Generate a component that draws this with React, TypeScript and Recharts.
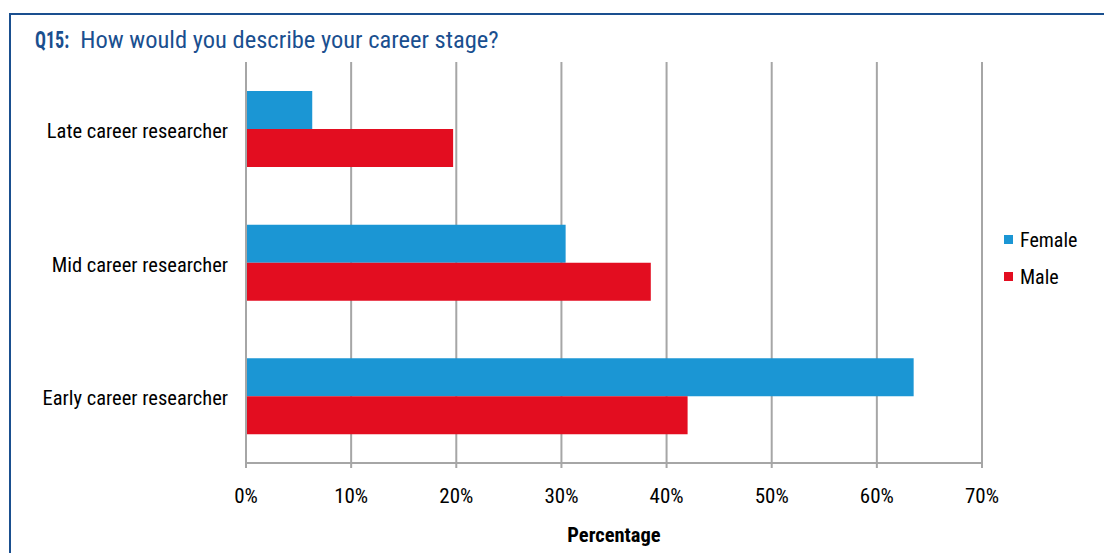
import React from "react";
import { BarChart, Bar, XAxis, YAxis, CartesianGrid } from "recharts";

const categories = ["Late career researcher", "Mid career researcher", "Early career researcher"];
const femaleValues = [6.3, 30.4, 63.5];
const maleValues = [19.7, 38.5, 42.0];
const xTicks = [0, 10, 20, 30, 40, 50, 60, 70];
const seriesNames = ["Female", "Male"];

const FONT = "'Liberation Sans Narrow', 'Roboto Condensed', 'DejaVu Sans Condensed', 'Arial Narrow', sans-serif";
const BLUE = "#1b96d4";
const RED = "#e30d20";
const GRID = "#a6a6a6";
const FRAME = "#1a4f8f";

const data = categories.map((c, i) => ({ category: c, female: femaleValues[i], male: maleValues[i] }));

export default function App() {
  return (
    <div style={{ position: "absolute", left: 0, top: 0, width: 1104, height: 553, background: "#fff", fontFamily: FONT, overflow: "hidden" }}>
      <div style={{ position: "absolute", left: 9, top: 13, right: -5, bottom: -5, borderTop: `2px solid ${FRAME}`, borderLeft: `2px solid ${FRAME}` }} />
      <div style={{ position: "absolute", left: 35, top: 25, fontSize: 24.5, color: FRAME, whiteSpace: "nowrap", lineHeight: "30px" }}>
        <span style={{ fontWeight: "bold", display: "inline-block", transform: "scaleX(0.74)", transformOrigin: "left center", marginRight: -12 }}>Q15:</span>
        <span style={{ marginLeft: 11 }}>How would you describe your career stage?</span>
      </div>
      <div style={{ position: "absolute", left: 0, top: 0 }}>
        <BarChart
          width={1104}
          height={553}
          data={data}
          layout="vertical"
          margin={{ top: 62, right: 122, bottom: 50, left: 0 }}
          barGap={0}
        >
          <CartesianGrid horizontal={false} vertical={true} stroke={GRID} strokeWidth={2} />
          <XAxis
            type="number"
            domain={[0, 70]}
            ticks={xTicks}
            tickFormatter={(v: number) => `${v}%`}
            height={40}
            axisLine={{ stroke: GRID, strokeWidth: 2 }}
            tickLine={{ stroke: GRID, strokeWidth: 2 }}
            tickSize={5}
            tickMargin={20}
            tick={{ fill: "#000", fontSize: 21, fontFamily: FONT }}
            interval={0}
          />
          <YAxis
            yAxisId="cat"
            type="category"
            dataKey="category"
            width={246}
            axisLine={{ stroke: GRID, strokeWidth: 2 }}
            tickLine={false}
            tickSize={0}
            tickMargin={18}
            tick={{ fill: "#000", fontSize: 20.5, fontFamily: FONT, dy: 2 }}
          />
          <YAxis
            yAxisId="bnd"
            type="number"
            domain={[0, 3]}
            ticks={[0, 1, 2, 3]}
            width={0}
            tick={false}
            axisLine={false}
            tickLine={{ stroke: GRID, strokeWidth: 2 }}
            tickSize={4}
          />
          <Bar yAxisId="cat" dataKey="female" name={seriesNames[0]} fill={BLUE} barSize={38} isAnimationActive={false} />
          <Bar yAxisId="cat" dataKey="male" name={seriesNames[1]} fill={RED} barSize={38} isAnimationActive={false} />
        </BarChart>
      </div>
      <div style={{ position: "absolute", left: 1004, top: 221, fontSize: 20, color: "#000" }}>
        {seriesNames.map((n, i) => (
          <div key={n} style={{ display: "flex", alignItems: "center", height: 37 }}>
            <div style={{ width: 9, height: 9, background: i === 0 ? BLUE : RED, marginRight: 7 }} />
            <span>{n}</span>
          </div>
        ))}
      </div>
      <div style={{ position: "absolute", left: 0, width: 1228, top: 523, textAlign: "center", fontSize: 20.5, fontWeight: "bold", color: "#000" }}>
        Percentage
      </div>
    </div>
  );
}
